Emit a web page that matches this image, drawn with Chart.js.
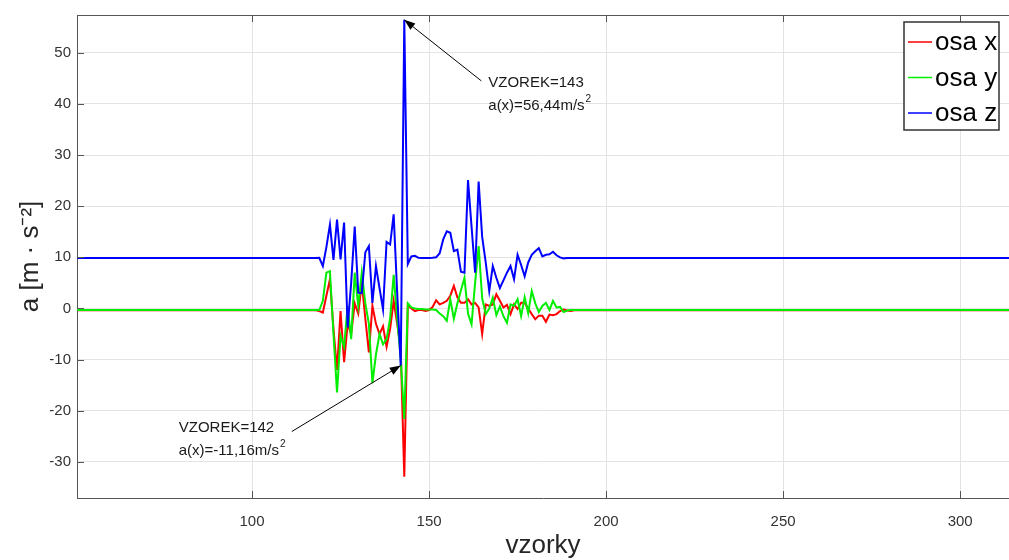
<!DOCTYPE html>
<html><head><meta charset="utf-8">
<script src="https://cdn.jsdelivr.net/npm/chart.js@4.4.1/dist/chart.umd.min.js"></script>
<style>html,body{margin:0;padding:0;background:#fff;overflow:hidden}canvas{display:block}</style>
</head><body>
<canvas id="c" width="1009" height="560"></canvas>
<script>
// ---- data ----
const samples = [50,60,70,80,90,100,110,117,
 118,119,120,121,122,123,124,125,126,127,128,129,130,131,132,133,134,135,136,137,138,139,140,141,142,143,
 144,145,146,147,148,149,150,151,152,153,154,155,156,157,158,159,160,161,162,163,164,165,166,167,168,169,
 170,171,172,173,174,175,176,177,178,179,180,181,182,183,184,185,186,187,188,189,190,191,192,
 200,210,220,230,240,250,260,270,280,290,300,310,315];
const osaX = [-0.35,-0.35,-0.35,-0.35,-0.35,-0.35,-0.35,-0.35,
 -0.35,-0.5,-0.8,2.5,5.7,-4.0,-12.0,-0.5,-10.5,-3.0,-5.0,1.0,-1.0,5.0,-2.0,-8.6,0.5,-3.0,-5.0,-3.5,-7.5,-4.0,1.5,-3.0,-8.0,-32.9,
 0.7,0.0,-0.5,-0.3,-0.3,-0.5,-0.3,0.3,1.6,0.8,1.1,1.5,2.5,4.4,2.2,1.1,1.1,1.8,0.8,1.1,0.2,-5.0,0.8,0.5,0.8,2.8,
 1.5,0.2,0.7,-1.1,0.8,-0.1,1.1,1.1,0.0,-1.1,-2.1,-1.4,-1.4,-2.6,-1.2,-1.3,-1.1,-0.5,-0.2,-0.4,-0.5,-0.35,-0.35,
 -0.35,-0.35,-0.35,-0.35,-0.35,-0.35,-0.35,-0.35,-0.35,-0.35,-0.35,-0.35,-0.35];
const osaY = [-0.3,-0.3,-0.3,-0.3,-0.3,-0.3,-0.3,-0.3,
 -0.3,-0.3,1.5,7.0,7.3,-5.0,-16.4,-5.3,-7.5,0.5,-6.0,7.0,0.5,7.0,1.0,-3.0,-14.6,-9.0,-5.0,-7.0,-6.0,-2.0,6.6,-2.0,-10.0,-21.6,
 1.0,0.2,0.0,-0.1,-0.1,-0.2,-0.2,-0.2,-0.3,-1.0,-1.5,-2.4,1.8,-2.0,1.0,3.5,6.0,-1.0,-3.1,5.0,12.2,2.0,-1.1,0.0,2.1,-1.3,
 0.4,-1.5,-2.8,0.8,0.5,1.8,-1.5,2.2,-0.9,3.4,1.0,-0.7,0.5,1.1,-0.3,1.5,0.2,0.3,-0.7,-0.4,-0.3,-0.3,-0.3,
 -0.3,-0.3,-0.3,-0.3,-0.3,-0.3,-0.3,-0.3,-0.3,-0.3,-0.3,-0.3,-0.3];
const osaZ = [9.85,9.85,9.85,9.85,9.85,9.85,9.85,9.85,
 9.85,9.9,8.3,12.0,16.4,9.5,17.4,9.6,16.8,-3.7,5.0,16.0,3.1,3.0,11.0,12.2,1.1,8.3,4.0,-0.2,13.0,12.5,18.4,3.0,-11.16,56.44,
 8.7,10.2,10.3,9.9,9.85,9.85,9.85,9.9,10.0,10.8,13.5,15.1,14.8,11.2,11.5,7.2,7.0,25.1,16.0,7.0,24.8,14.0,9.0,3.4,8.3,6.0,
 4.0,5.5,7.0,8.3,5.7,10.5,8.5,6.3,9.0,10.5,11.2,11.8,10.2,10.5,10.6,11.1,10.4,10.0,9.8,9.85,9.85,9.85,9.85,
 9.85,9.85,9.85,9.85,9.85,9.85,9.85,9.85,9.85,9.85,9.85,9.85,9.85];
const seriesNames = ['osa x','osa y','osa z'];
const xTicks = [100,150,200,250,300];
const yTicks = [-30,-20,-10,0,10,20,30,40,50];
const xRange = [50.56, 313.8];
const yRange = [-37.06, 57.39];
const marked = [
  {sample:143, value:56.44, line1:'VZOREK=143', line2:'a(x)=56,44m/s', sup:'2'},
  {sample:142, value:-11.16, line1:'VZOREK=142', line2:'a(x)=-11,16m/s', sup:'2'}
];

// ---- styling ----
const colors = ['#ff0000','#00ee00','#0000ff'];
const FONT = '"Liberation Sans", Arial, Helvetica, sans-serif';
Chart.defaults.font.family = FONT;

function pts(vals){ return samples.map((s,i)=>({x:s,y:vals[i]})); }

const datasets = [osaX, osaY, osaZ].map((v,i)=>({
  label: seriesNames[i], data: pts(v), borderColor: colors[i], backgroundColor: colors[i],
  borderWidth: 2, pointRadius: 0, tension: 0, order: 2 - i
}));

// offsets (px) of annotation text / arrow tail relative to the marked point
const annLayout = [
  {tx: 84, ty: 67, ax: 77, ay: 61},
  {tx: -222, ty: 66, ax: -109, ay: 66}
];

function arrow(ctx, x1, y1, x2, y2){
  ctx.beginPath(); ctx.moveTo(x1,y1); ctx.lineTo(x2,y2); ctx.stroke();
  const a = Math.atan2(y2-y1, x2-x1), L = 11, W = 4;
  ctx.beginPath();
  ctx.moveTo(x2,y2);
  ctx.lineTo(x2 - L*Math.cos(a) + W*Math.sin(a), y2 - L*Math.sin(a) - W*Math.cos(a));
  ctx.lineTo(x2 - L*Math.cos(a) - W*Math.sin(a), y2 - L*Math.sin(a) + W*Math.cos(a));
  ctx.closePath(); ctx.fill();
}

const decor = {
  id: 'decor',
  afterDatasetsDraw(chart){
    const {ctx, chartArea:ca, scales:{x, y}} = chart;
    ctx.save();
    // frame top + inward ticks
    ctx.strokeStyle = '#555'; ctx.lineWidth = 1;
    ctx.beginPath(); ctx.moveTo(ca.left, ca.top+0.5); ctx.lineTo(ca.right, ca.top+0.5); ctx.stroke();
    ctx.beginPath();
    xTicks.forEach(v=>{ const p = Math.round(x.getPixelForValue(v))+0.5;
      ctx.moveTo(p, ca.bottom); ctx.lineTo(p, ca.bottom-7);
      ctx.moveTo(p, ca.top); ctx.lineTo(p, ca.top+7); });
    yTicks.forEach(v=>{ const p = Math.round(y.getPixelForValue(v))+0.5;
      ctx.moveTo(ca.left, p); ctx.lineTo(ca.left+7, p); });
    ctx.stroke();

    // annotations
    ctx.strokeStyle = '#000'; ctx.fillStyle = '#000'; ctx.lineWidth = 1;
    marked.forEach((m,i)=>{
      const L = annLayout[i];
      const px = x.getPixelForValue(m.sample), py = y.getPixelForValue(m.value);
      arrow(ctx, px+L.ax, py+L.ay, px, py);
      ctx.font = '15px ' + FONT; ctx.textBaseline = 'alphabetic'; ctx.textAlign = 'left';
      ctx.fillStyle = '#1a1a1a';
      ctx.fillText(m.line1, px+L.tx, py+L.ty);
      ctx.fillText(m.line2, px+L.tx, py+L.ty+23);
      const w = ctx.measureText(m.line2).width;
      ctx.font = '10px ' + FONT;
      ctx.fillText(m.sup, px+L.tx+w+1, py+L.ty+23-8);
      ctx.fillStyle = '#000';
    });

    // legend box
    const bx = 904, by = 22, bw = 95, bh = 108;
    ctx.fillStyle = '#fff'; ctx.fillRect(bx, by, bw, bh);
    ctx.strokeStyle = '#333'; ctx.lineWidth = 1.5; ctx.strokeRect(bx, by, bw, bh);
    chart.data.datasets.forEach((d,i)=>{
      const yy = by + 20 + i*35.5;
      ctx.strokeStyle = d.borderColor; ctx.lineWidth = 1.5;
      ctx.beginPath(); ctx.moveTo(bx+4, yy); ctx.lineTo(bx+28, yy); ctx.stroke();
      ctx.fillStyle = '#000'; ctx.font = '26px ' + FONT; ctx.textBaseline = 'middle'; ctx.textAlign = 'left';
      ctx.fillText(d.label, bx+31, yy+1);
    });
    ctx.restore();
  }
};

new Chart(document.getElementById('c'), {
  type: 'line',
  data: { datasets },
  options: {
    responsive: false, animation: false, devicePixelRatio: 1,
    layout: { padding: { top: 12, right: 0, left: 0, bottom: 0 } },
    plugins: { legend: { display: false }, tooltip: { enabled: false } },
    scales: {
      x: {
        type: 'linear', min: xRange[0], max: xRange[1],
        afterBuildTicks: s => { s.ticks = xTicks.map(v=>({value:v})); },
        afterFit: s => { s.height = 62; },
        grid: { color: '#e3e3e3', lineWidth: 1, drawTicks: false },
        border: { display: true, color: '#555', width: 1 },
        ticks: { padding: 15, color: '#333', font: { size: 15 }, maxRotation: 0 },
        title: { display: true, text: 'vzorky', color: '#262626', font: { size: 26, lineHeight: 1 }, padding: { top: 0, bottom: 1 } }
      },
      y: {
        type: 'linear', min: yRange[0], max: yRange[1],
        afterBuildTicks: s => { s.ticks = yTicks.map(v=>({value:v})); },
        afterFit: s => { s.width = 77; },
        grid: { color: '#e3e3e3', lineWidth: 1, drawTicks: false },
        border: { display: true, color: '#555', width: 1 },
        ticks: { padding: 6, color: '#333', font: { size: 15 } },
        title: { display: true, text: 'a [m · s⁻²]', color: '#262626', font: { size: 26 }, padding: { top: 15, bottom: 0 } }
      }
    }
  },
  plugins: [decor]
});
</script>
</body></html>
